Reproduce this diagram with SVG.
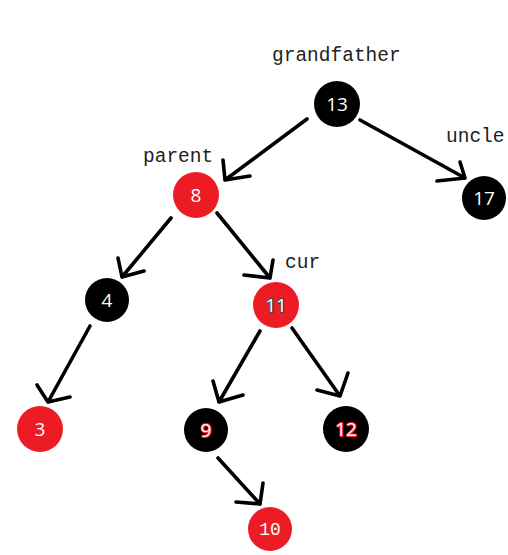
<svg xmlns="http://www.w3.org/2000/svg" width="508" height="555" viewBox="0 0 508 555">
<style>
.red{fill:#ED1C24}
.blk{fill:#000}
.num{font-family:"Open Sans","DejaVu Sans",sans-serif;font-size:19px;fill:#fff;text-anchor:middle}
.out{paint-order:stroke;stroke-width:2.2;stroke-linejoin:round}
.mono{font-family:"Liberation Mono","DejaVu Sans Mono",monospace;font-size:18px;fill:#fff;text-anchor:middle}
.lbl{font-family:"Liberation Mono","DejaVu Sans Mono",monospace;font-size:19.5px;fill:#222}
.arr{fill:none;stroke:#000;stroke-width:3.6;stroke-linecap:round;stroke-linejoin:round}
</style>
<rect width="508" height="555" fill="#fff"/>
<g id="labels">
<text class="lbl" x="272" y="61">grandfather</text>
<text class="lbl" x="143" y="162">parent</text>
<text class="lbl" x="446" y="142">uncle</text>
<text class="lbl" x="285" y="268">cur</text>
</g>
<g id="connectors">
<path class="arr" d="M307 119 L225 180 M223 160 L225 180 L250 176"/>
<path class="arr" d="M360 120 L465 178 M460 162 L465 178 L437 181"/>
<path class="arr" d="M171 218 L122 277 M118 258 L122 277 L144 271"/>
<path class="arr" d="M217 213 L270 278 M273 260 L270 278 L244 275"/>
<path class="arr" d="M90 326 L48 402 M37 385 L48 402 L70 397"/>
<path class="arr" d="M260 331 L219 402 M213 381 L219 402 L243 395"/>
<path class="arr" d="M292 328 L340 396 M348 373 L340 396 L317 390"/>
<path class="arr" d="M218 458 L260 504 M263 483 L260 504 L236 502"/>
</g>
<g id="n13"><circle class="blk" cx="337" cy="104" r="23"/><text class="num" x="337" y="111">13</text></g>
<g id="n8"><circle class="red" cx="196" cy="195" r="23"/><text class="num" x="196" y="202">8</text></g>
<g id="n17"><circle class="blk" cx="484" cy="198" r="22"/><text class="num" x="484" y="205">17</text></g>
<g id="n4"><circle class="blk" cx="107" cy="300" r="22"/><text class="num" x="107" y="307">4</text></g>
<g id="n11"><circle class="red" cx="276" cy="305" r="23"/><text class="num out" x="276" y="312" stroke="#444">11</text></g>
<g id="n3"><circle class="red" cx="40" cy="429" r="23"/><text class="num" x="40" y="436">3</text></g>
<g id="n9"><circle class="blk" cx="206" cy="430" r="22"/><text class="num out" x="206" y="437" stroke="#ED1C24">9</text></g>
<g id="n12"><circle class="blk" cx="346" cy="429" r="23"/><text class="num out" x="346" y="436" stroke="#ED1C24">12</text></g>
<g id="n10"><circle class="red" cx="270" cy="529" r="22"/><text class="mono" x="270" y="535">10</text></g>
</svg>
